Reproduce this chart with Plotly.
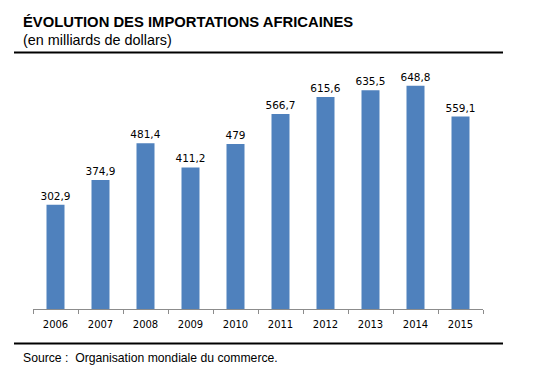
import plotly.graph_objects as go

years = ["2006", "2007", "2008", "2009", "2010", "2011", "2012", "2013", "2014", "2015"]
values = [302.9, 374.9, 481.4, 411.2, 479, 566.7, 615.6, 635.5, 648.8, 559.1]
labels = ["302,9", "374,9", "481,4", "411,2", "479", "566,7", "615,6", "635,5", "648,8", "559,1"]

OFF = 8  # page body margin
W, H = 543 - OFF, 370 - OFF
L, R, T, B = 33 - OFF, 543 - 483, 68 - OFF, 370 - 309.5
pw = W - L - R
ph = H - T - B

def px(x):
    return (x - OFF - L) / pw

def py(y):
    return (H - B - (y - OFF)) / ph

fig = go.Figure(go.Bar(
    x=years, y=values, text=labels, textposition="outside",
    textfont=dict(family="DejaVu Sans", size=10.5, color="#000000"),
    constraintext="none",
    marker=dict(color="#4F81BD", line=dict(width=0)),
    width=0.4, cliponaxis=False,
))

fig.update_layout(
    width=W, height=H,
    margin=dict(l=L, r=R, t=T, b=B),
    plot_bgcolor="white", paper_bgcolor="white",
    showlegend=False,
    xaxis=dict(type="category", showline=True, linecolor="#8c8c8c", linewidth=1,
               ticks="outside", tickson="boundaries", ticklen=4, tickcolor="#8c8c8c",
               ticklabelstandoff=6,
               tickfont=dict(family="DejaVu Sans", size=10, color="#000000"),
               showgrid=False),
    yaxis=dict(range=[0, 700], visible=False, showgrid=False),
    shapes=[
        dict(type="line", xref="paper", yref="paper", x0=px(14), x1=px(503), y0=py(52.5), y1=py(52.5),
             line=dict(color="black", width=2)),
        dict(type="line", xref="paper", yref="paper", x0=px(14), x1=px(503), y0=py(344), y1=py(344),
             line=dict(color="black", width=2)),
    ],
    annotations=[
        dict(text="<b>ÉVOLUTION DES IMPORTATIONS AFRICAINES</b>", xref="paper", yref="paper",
             x=px(21), y=py(21.5), xanchor="left", yanchor="middle", showarrow=False,
             font=dict(family="Liberation Sans", size=14.8, color="black")),
        dict(text="(en milliards de dollars)", xref="paper", yref="paper",
             x=px(21), y=py(40), xanchor="left", yanchor="middle", showarrow=False,
             font=dict(family="Liberation Sans", size=14.4, color="black")),
        dict(text="Source :  Organisation mondiale du commerce.", xref="paper", yref="paper",
             x=px(21), y=py(359), xanchor="left", yanchor="middle", showarrow=False,
             font=dict(family="Liberation Sans", size=12.2, color="black")),
    ],
)

fig.write_html("out.html")
